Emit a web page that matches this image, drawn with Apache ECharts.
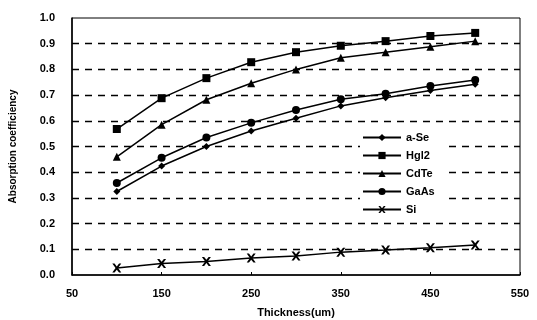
<!DOCTYPE html>
<html><head><meta charset="utf-8">
<script src="https://cdn.jsdelivr.net/npm/echarts@6/dist/echarts.min.js"></script>
<style>html,body{margin:0;padding:0;background:#fff}#c{width:537px;height:320px}</style>
</head><body><div id="c"></div>
<script>
const thickness = [100, 150, 200, 250, 300, 350, 400, 450, 500];
const aSe  = [0.325, 0.424, 0.500, 0.560, 0.610, 0.658, 0.690, 0.718, 0.742];
const HgI2 = [0.568, 0.688, 0.766, 0.828, 0.867, 0.892, 0.910, 0.930, 0.942];
const CdTe = [0.460, 0.585, 0.682, 0.746, 0.800, 0.845, 0.867, 0.888, 0.910];
const GaAs = [0.358, 0.456, 0.535, 0.592, 0.642, 0.684, 0.705, 0.735, 0.759];
const Si   = [0.027, 0.045, 0.053, 0.066, 0.074, 0.089, 0.097, 0.106, 0.117];
const seriesNames = ['a-Se', 'HgI2', 'CdTe', 'GaAs', 'Si'];
const legendLabels = ['a-Se', 'Hgl2', 'CdTe', 'GaAs', 'Si'];
const xTitle = 'Thickness(um)';
const yTitle = 'Absorption coefficiency';

const xPath = 'path://M0,0 L2.5,0 L5,3.2 L7.5,0 L10,0 L6.4,5 L10,10 L7.5,10 L5,6.8 L2.5,10 L0,10 L3.6,5 Z';
const symbols = ['diamond', 'rect', 'triangle', 'circle', xPath];
const sizes = [7, 8, 8, 8, 9];
const values = [aSe, HgI2, CdTe, GaAs, Si];
const font = 'Liberation Sans, Arial, sans-serif';

const chart = echarts.init(document.getElementById('c'));
chart.setOption({
  animation: false,
  backgroundColor: '#fff',
  grid: { left: 72, right: 17, top: 18, bottom: 45, show: true, borderColor: '#000', borderWidth: 1,
    containLabel: false, outerBoundsMode: 'none' },
  legend: {
    orient: 'vertical', left: 360, top: 130,
    itemWidth: 38, itemHeight: 9, itemGap: 7,
    backgroundColor: '#fff', padding: [2, 14, 2, 2],
    data: seriesNames,
    formatter: n => legendLabels[seriesNames.indexOf(n)],
    textStyle: { fontFamily: font, fontSize: 11, fontWeight: 'bold', color: '#000' }
  },
  xAxis: {
    type: 'value', min: 50, max: 550, interval: 100,
    name: xTitle, nameLocation: 'middle', nameGap: 32,
    nameTextStyle: { fontFamily: font, fontSize: 11, fontWeight: 'bold', color: '#000' },
    axisLine: { lineStyle: { color: '#000', width: 1.5 } },
    axisTick: { show: true, inside: true, length: 3, lineStyle: { color: '#000' } },
    axisLabel: { fontFamily: font, fontSize: 11, fontWeight: 'bold', color: '#000', margin: 13 },
    splitLine: { show: false }
  },
  yAxis: {
    type: 'value', min: 0, max: 1, interval: 0.1,
    name: yTitle, nameLocation: 'middle', nameGap: 54,
    nameTextStyle: { fontFamily: font, fontSize: 10, fontWeight: 'bold', color: '#000' },
    axisLine: { show: true, lineStyle: { color: '#000', width: 1.5 } },
    axisTick: { show: false },
    axisLabel: { fontFamily: font, fontSize: 11, fontWeight: 'bold', color: '#000', margin: 17,
      formatter: v => v.toFixed(1) },
    splitLine: { show: true, showMinLine: false, showMaxLine: false,
      lineStyle: { color: '#000', width: 1.3, type: [7, 6] } }
  },
  series: seriesNames.map((name, i) => ({
    name, type: 'line',
    data: thickness.map((t, j) => [t, values[i][j]]),
    symbol: symbols[i], symbolSize: sizes[i],
    lineStyle: { color: '#000', width: 1.5 },
    itemStyle: { color: '#000' },
    z: 3
  }))
});
</script></body></html>
